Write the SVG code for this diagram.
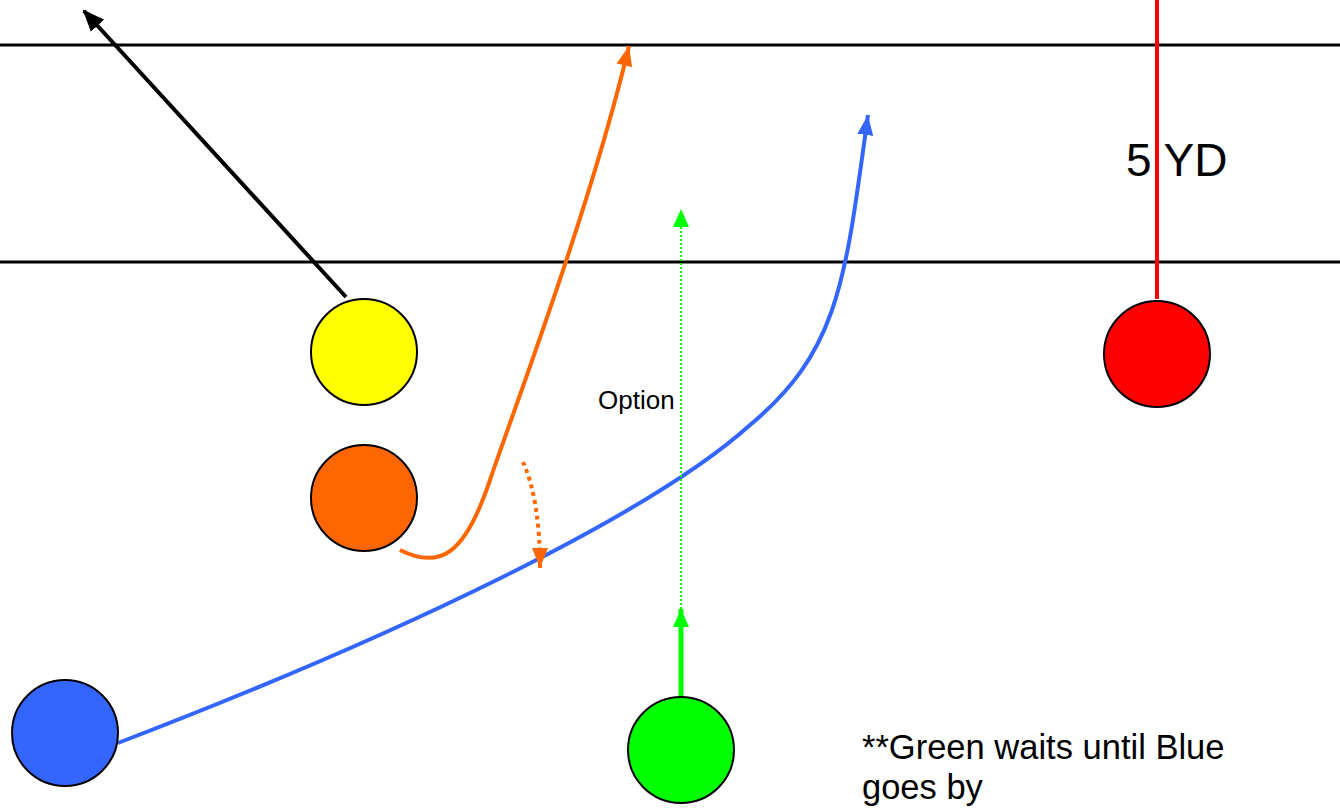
<svg xmlns="http://www.w3.org/2000/svg" width="1340" height="808" viewBox="0 0 1340 808">
<style>
.yard{stroke:#000;stroke-width:3;fill:none}
.player{stroke:#000;stroke-width:2}
.route{fill:none;stroke-linecap:butt}
.lbl{font-family:"Liberation Sans",Arial,sans-serif;fill:#000}
</style>
<defs>
<marker id="mBlack" markerUnits="userSpaceOnUse" markerWidth="24" markerHeight="20" refX="20" refY="10" orient="auto"><path d="M0,1 L22,10 L0,19 Z" fill="#000"/></marker>
<marker id="mOrange" markerUnits="userSpaceOnUse" markerWidth="24" markerHeight="20" refX="20" refY="10" orient="auto"><path d="M0,2 L20,10 L0,18 Z" fill="#FF6600"/></marker>
<marker id="mBlue" markerUnits="userSpaceOnUse" markerWidth="24" markerHeight="20" refX="20" refY="10" orient="auto"><path d="M0,2 L20,10 L0,18 Z" fill="#3366FF"/></marker>
<marker id="mGreen" markerUnits="userSpaceOnUse" markerWidth="24" markerHeight="20" refX="18" refY="10" orient="auto"><path d="M0,2 L18,10 L0,18 Z" fill="#00FF00"/></marker>
</defs>
<rect width="1340" height="808" fill="#fff"/>
<g id="yardlines">
<line class="yard" x1="0" y1="45" x2="1340" y2="45"/>
<line class="yard" x1="0" y1="262" x2="1340" y2="262"/>
</g>
<g id="connectors">
<line class="route" x1="346" y1="297" x2="84" y2="11" stroke="#000" stroke-width="4" marker-end="url(#mBlack)"/>
<path class="route" d="M400,550 C440,570 465,555 490,480 C510,420 590,210 629,46" stroke="#FF6600" stroke-width="4" marker-end="url(#mOrange)"/>
<path class="route" d="M118,743 C400,635 650,515 750,425 C840,350 845,280 868,115" stroke="#3366FF" stroke-width="4" marker-end="url(#mBlue)"/>
<line class="route" x1="681" y1="697" x2="681" y2="609" stroke="#00FF00" stroke-width="5" marker-end="url(#mGreen)"/>
<line class="route" x1="681" y1="609" x2="681" y2="209" stroke="#00FF00" stroke-width="2" stroke-dasharray="2,2" marker-end="url(#mGreen)"/>
<path class="route" d="M523,462 Q540,500 540,568" stroke="#FF6600" stroke-width="4" stroke-dasharray="4,4" marker-end="url(#mOrange)"/>
<line class="route" x1="1157" y1="0" x2="1157" y2="299" stroke="#FF0000" stroke-width="4"/>
</g>
<g id="yellow"><circle class="player" cx="364" cy="352" r="53" fill="#FFFF00"/></g>
<g id="orange"><circle class="player" cx="364" cy="498" r="53" fill="#FF6600"/></g>
<g id="blue"><circle class="player" cx="65" cy="733" r="53" fill="#3366FF"/></g>
<g id="green"><circle class="player" cx="681" cy="750" r="53" fill="#00FF00"/></g>
<g id="red"><circle class="player" cx="1157" cy="354" r="53" fill="#FF0000"/></g>
<g id="labels">
<text class="lbl" x="1126" y="176" font-size="46">5 YD</text>
<text class="lbl" x="598" y="409" font-size="26">Option</text>
<text class="lbl" x="862" y="759" font-size="34.5">**Green waits until Blue</text>
<text class="lbl" x="862" y="799" font-size="34.5">goes by</text>
</g>
</svg>
